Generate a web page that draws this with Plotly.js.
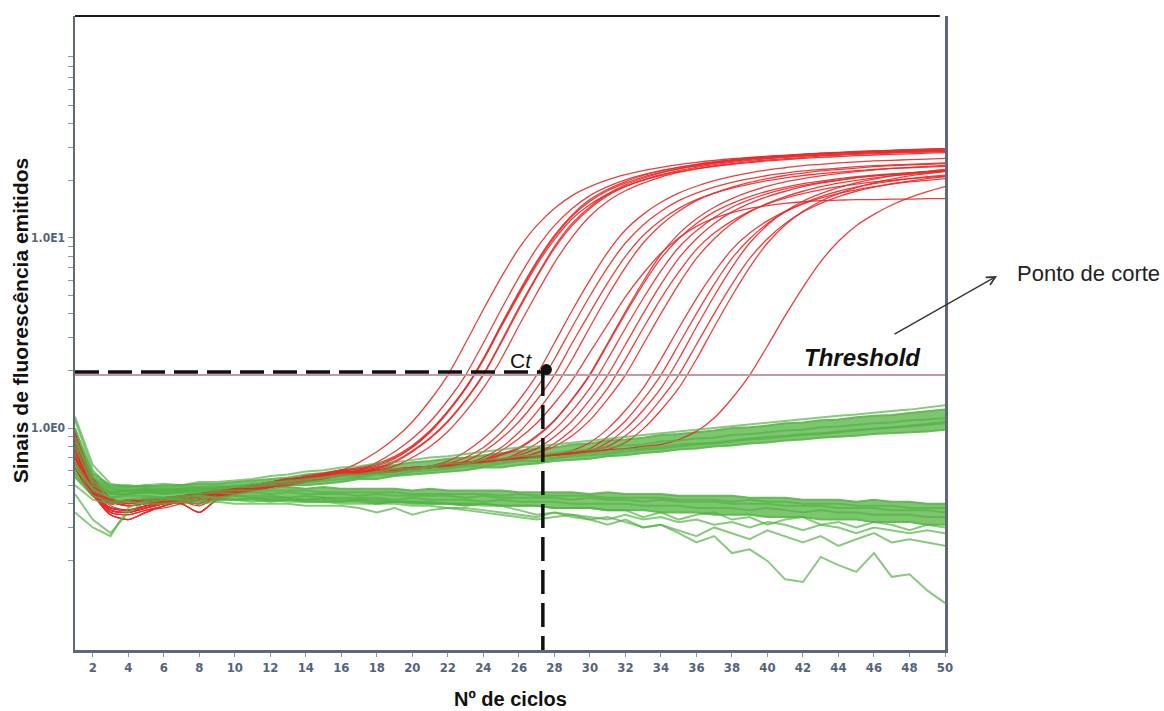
<!DOCTYPE html>
<html>
<head>
<meta charset="utf-8">
<script src="https://cdn.plot.ly/plotly-3.0.1.min.js"></script>
<style>
  html, body { margin: 0; padding: 0; background: #ffffff; }
  #chart { width: 1164px; height: 711px; }
</style>
</head>
<body>
<div id="chart"></div>
<script>
// qPCR amplification plot: fluorescence (log scale) per cycle.
const cycles = [1,2,3,4,5,6,7,8,9,10,11,12,13,14,15,16,17,18,19,20,21,22,23,24,25,
                26,27,28,29,30,31,32,33,34,35,36,37,38,39,40,41,42,43,44,45,46,47,48,49,50];

// Amplified samples (red)
const redA1 = [0.92,0.52,0.41,0.39,0.40,0.41,0.42,0.44,0.45,0.47,0.49,0.51,0.53,0.55,0.57,0.60,
  0.66,0.75,0.88,1.08,1.40,1.90,2.8,4.2,6.2,8.8,11.6,14.3,16.7,18.6,20.2,21.5,22.6,23.5,24.3,25.0,25.6,26.1,26.5,26.9,27.2,27.5,27.8,28.0,28.2,28.4,28.5,28.6,28.7,28.8];
const redA2 = [0.80,0.47,0.37,0.36,0.38,0.40,0.42,0.43,0.45,0.46,0.48,0.50,0.52,0.54,0.56,0.58,
  0.60,0.66,0.75,0.88,1.08,1.40,1.90,2.8,4.2,6.2,8.8,11.6,14.3,16.7,18.6,20.2,21.5,22.6,23.5,24.3,25.0,25.6,26.1,26.6,27.0,27.4,27.7,28.0,28.3,28.5,28.7,28.9,29.1,29.3];
const redA3 = [0.86,0.50,0.40,0.42,0.41,0.43,0.44,0.45,0.46,0.48,0.50,0.52,0.54,0.55,0.57,0.59,
  0.61,0.64,0.70,0.80,0.96,1.22,1.62,2.3,3.45,5.1,7.4,10.1,13.0,15.6,17.7,19.4,20.9,22.1,23.1,23.9,24.7,25.3,25.9,26.3,26.7,27.05,27.35,27.65,27.9,28.1,28.3,28.5,28.7,28.9];
const redA4 = [0.70,0.45,0.35,0.33,0.36,0.39,0.41,0.40,0.44,0.46,0.48,0.49,0.51,0.53,0.55,0.57,
  0.60,0.63,0.69,0.79,0.95,1.21,1.61,2.28,3.4,5.0,7.2,9.8,12.6,15.0,17.0,18.7,20.1,21.3,22.3,23.1,23.8,24.4,24.9,25.4,25.8,26.2,26.5,26.8,27.1,27.3,27.5,27.7,27.9,28.1];
const redA5 = [0.95,0.55,0.43,0.40,0.41,0.40,0.43,0.45,0.46,0.47,0.50,0.52,0.53,0.56,0.58,0.60,
  0.62,0.65,0.71,0.81,0.97,1.23,1.63,2.32,3.5,5.2,7.5,10.3,13.2,15.9,18.0,19.8,21.3,22.5,23.5,24.4,25.2,25.8,26.4,26.8,27.2,27.6,27.9,28.2,28.5,28.7,28.9,29.1,29.3,29.5];
const redA6 = [0.78,0.46,0.36,0.35,0.37,0.39,0.41,0.43,0.44,0.46,0.48,0.49,0.51,0.53,0.55,0.57,
  0.59,0.61,0.66,0.75,0.88,1.08,1.40,1.90,2.8,4.2,6.2,8.8,11.6,14.3,16.7,18.6,20.2,21.5,22.6,23.5,24.3,25.0,25.6,26.1,26.5,26.9,27.2,27.5,27.8,28.0,28.2,28.4,28.6,28.8];
const redA7 = [0.62,0.44,0.38,0.37,0.39,0.41,0.40,0.36,0.42,0.45,0.47,0.49,0.52,0.54,0.55,0.57,
  0.59,0.62,0.67,0.76,0.89,1.09,1.41,1.92,2.85,4.3,6.3,9.0,11.9,14.6,17.0,19.0,20.6,22.0,23.1,24.0,24.8,25.5,26.1,26.6,27.0,27.4,27.8,28.1,28.4,28.7,28.9,29.1,29.3,29.5];
const redA8 = [0.72,0.46,0.36,0.35,0.37,0.38,0.40,0.42,0.43,0.45,0.47,0.49,0.50,0.52,0.54,0.56,
  0.58,0.60,0.63,0.70,0.80,0.96,1.22,1.62,2.3,3.45,5.1,7.4,10.1,13.0,15.6,17.7,19.4,20.9,22.1,23.1,23.9,24.6,25.2,25.7,26.1,26.5,26.9,27.2,27.5,27.7,27.9,28.1,28.3,28.5];
const redB1 = [0.88,0.51,0.41,0.40,0.42,0.42,0.44,0.45,0.47,0.48,0.50,0.51,0.53,0.55,0.56,0.57,
  0.58,0.59,0.60,0.61,0.63,0.67,0.75,0.88,1.08,1.40,1.90,2.8,4.15,6.0,8.4,11.0,13.3,15.4,17.2,18.7,20.0,21.1,22.0,22.8,23.4,24.0,24.4,24.8,25.1,25.4,25.6,25.8,26.0,26.2];
const redB2 = [0.84,0.49,0.39,0.37,0.39,0.40,0.42,0.43,0.45,0.46,0.48,0.50,0.52,0.54,0.56,0.58,
  0.59,0.60,0.61,0.62,0.63,0.65,0.70,0.79,0.95,1.21,1.62,2.3,3.4,4.95,7.0,9.4,11.7,13.8,15.7,17.2,18.5,19.6,20.5,21.3,21.9,22.5,22.9,23.3,23.7,24.0,24.2,24.4,24.6,24.8];
const redB3 = [0.80,0.47,0.37,0.36,0.38,0.40,0.42,0.43,0.45,0.46,0.48,0.50,0.52,0.54,0.56,0.58,
  0.58,0.59,0.60,0.61,0.62,0.64,0.67,0.75,0.88,1.08,1.40,1.90,2.8,4.05,5.8,8.0,10.3,12.4,14.3,15.9,17.2,18.3,19.2,20.0,20.7,21.3,21.8,22.2,22.6,22.9,23.2,23.4,23.6,23.8];
const redB4 = [0.66,0.45,0.37,0.36,0.38,0.40,0.41,0.39,0.43,0.45,0.47,0.49,0.51,0.53,0.55,0.57,
  0.58,0.59,0.60,0.61,0.62,0.63,0.65,0.70,0.79,0.95,1.21,1.62,2.3,3.4,4.95,7.0,9.4,11.7,13.8,15.7,17.2,18.5,19.6,20.5,21.3,21.9,22.5,22.9,23.3,23.7,24.0,24.2,24.4,24.6];
const redB5 = [0.76,0.47,0.38,0.37,0.39,0.40,0.42,0.43,0.44,0.46,0.47,0.49,0.51,0.53,0.55,0.57,
  0.58,0.59,0.60,0.61,0.62,0.63,0.65,0.68,0.76,0.88,1.06,1.35,1.78,2.5,3.5,4.9,6.5,8.3,10.0,11.5,12.7,13.6,14.3,14.8,15.2,15.5,15.7,15.8,15.9,15.9,16.0,16.0,16.1,16.1];
const redC1 = [0.70,0.45,0.35,0.33,0.36,0.39,0.41,0.40,0.44,0.46,0.48,0.49,0.51,0.53,0.55,0.57,
  0.58,0.59,0.60,0.61,0.63,0.64,0.65,0.67,0.72,0.78,0.90,1.09,1.41,1.90,2.75,4.0,5.7,7.8,9.9,11.9,13.7,15.2,16.5,17.6,18.5,19.3,19.9,20.5,21.0,21.4,21.7,22.0,22.3,22.5];
const redC2 = [0.86,0.50,0.40,0.42,0.41,0.43,0.44,0.45,0.46,0.48,0.50,0.52,0.54,0.55,0.57,0.59,
  0.59,0.60,0.61,0.62,0.63,0.65,0.66,0.68,0.73,0.79,0.91,1.10,1.42,1.92,2.8,4.1,5.9,8.2,10.5,12.6,14.5,16.1,17.5,18.7,19.7,20.5,21.2,21.8,22.3,22.8,23.2,23.5,23.8,24.1];
const redC3 = [0.92,0.52,0.41,0.39,0.40,0.41,0.42,0.44,0.45,0.47,0.49,0.51,0.53,0.55,0.57,0.60,
  0.58,0.59,0.60,0.61,0.62,0.64,0.65,0.67,0.68,0.74,0.83,0.98,1.23,1.62,2.3,3.35,4.8,6.7,8.9,10.9,12.8,14.5,15.9,17.1,18.1,18.9,19.6,20.2,20.8,21.2,21.6,21.9,22.2,22.4];
const redC4 = [0.82,0.48,0.38,0.37,0.38,0.41,0.42,0.44,0.45,0.47,0.48,0.50,0.52,0.53,0.55,0.57,
  0.57,0.58,0.59,0.61,0.62,0.63,0.65,0.66,0.68,0.72,0.78,0.90,1.09,1.41,1.90,2.75,4.0,5.7,7.8,9.9,11.9,13.7,15.2,16.5,17.6,18.6,19.4,20.1,20.7,21.2,21.6,22.0,22.3,22.6];
const redC5 = [0.62,0.44,0.38,0.37,0.39,0.41,0.40,0.36,0.42,0.45,0.47,0.49,0.52,0.54,0.55,0.57,
  0.58,0.59,0.60,0.61,0.62,0.64,0.65,0.67,0.68,0.70,0.74,0.83,0.98,1.23,1.62,2.3,3.35,4.8,6.6,8.7,10.6,12.3,13.8,15.1,16.2,17.1,17.9,18.6,19.2,19.7,20.1,20.5,20.8,21.1];
const redC6 = [0.90,0.53,0.42,0.41,0.42,0.43,0.43,0.45,0.46,0.47,0.49,0.51,0.53,0.55,0.56,0.58,
  0.58,0.59,0.60,0.62,0.63,0.64,0.66,0.67,0.69,0.70,0.74,0.80,0.91,1.10,1.42,1.90,2.75,4.0,5.7,7.8,9.9,11.9,13.7,15.2,16.5,17.6,18.6,19.4,20.1,20.7,21.2,21.6,22.0,22.4];
const redD1 = [0.90,0.51,0.42,0.40,0.41,0.42,0.43,0.44,0.45,0.47,0.49,0.50,0.52,0.54,0.57,0.59,
  0.58,0.59,0.60,0.61,0.62,0.64,0.65,0.67,0.68,0.70,0.71,0.72,0.76,0.84,0.99,1.24,1.62,2.3,3.35,4.8,6.6,8.7,10.6,12.3,13.8,15.1,16.2,17.1,17.9,18.6,19.2,19.7,20.1,20.5];
const redD2 = [0.70,0.45,0.35,0.33,0.36,0.39,0.41,0.40,0.44,0.46,0.48,0.49,0.51,0.53,0.55,0.57,
  0.57,0.58,0.59,0.61,0.62,0.63,0.65,0.66,0.68,0.69,0.71,0.72,0.74,0.78,0.90,1.09,1.41,1.90,2.75,4.0,5.7,7.8,9.9,11.9,13.7,15.2,16.5,17.6,18.5,19.3,19.9,20.5,21.0,21.4];
const redD3 = [0.80,0.47,0.37,0.36,0.38,0.40,0.42,0.43,0.45,0.46,0.48,0.50,0.52,0.54,0.56,0.58,
  0.58,0.59,0.60,0.61,0.63,0.64,0.65,0.67,0.68,0.70,0.71,0.73,0.74,0.76,0.84,0.99,1.24,1.62,2.3,3.4,4.95,7.0,9.4,11.7,13.8,15.6,17.1,18.4,19.5,20.4,21.2,21.8,22.4,22.9];
const redD4 = [0.86,0.50,0.40,0.42,0.41,0.43,0.44,0.45,0.46,0.48,0.50,0.52,0.54,0.55,0.57,0.59,
  0.58,0.59,0.60,0.61,0.62,0.64,0.65,0.66,0.68,0.69,0.71,0.72,0.74,0.76,0.80,0.91,1.10,1.42,1.90,2.75,4.0,5.7,7.8,9.9,11.9,13.7,15.2,16.5,17.6,18.5,19.3,19.9,20.5,21.0];
const redD5 = [0.62,0.44,0.38,0.37,0.39,0.41,0.40,0.36,0.42,0.45,0.47,0.49,0.52,0.54,0.55,0.57,
  0.58,0.59,0.60,0.61,0.62,0.63,0.65,0.66,0.68,0.69,0.70,0.72,0.73,0.75,0.77,0.84,0.99,1.24,1.62,2.3,3.4,4.95,7.0,9.4,11.7,13.8,15.6,17.1,18.4,19.5,20.4,21.2,21.8,22.4];
const redE1 = [0.92,0.52,0.41,0.39,0.40,0.41,0.42,0.44,0.45,0.47,0.49,0.51,0.53,0.55,0.57,0.60,
  0.58,0.59,0.60,0.61,0.62,0.64,0.65,0.66,0.68,0.69,0.71,0.72,0.74,0.75,0.77,0.78,0.80,0.82,0.87,0.96,1.13,1.43,1.90,2.7,3.9,5.5,7.5,9.6,11.6,13.3,14.9,16.3,17.5,18.6];

// Non-amplified samples (green): slowly rising group
const greenUp1 = [1.10,0.60,0.48,0.47,0.48,0.47,0.48,0.49,0.48,0.50,0.50,0.52,0.52,0.54,0.55,0.57,0.57,0.59,0.61,0.61,0.63,0.65,0.65,0.68,0.69,
  0.71,0.72,0.74,0.76,0.77,0.79,0.81,0.82,0.85,0.86,0.88,0.89,0.92,0.93,0.95,0.97,0.98,1.01,1.02,1.04,1.06,1.07,1.10,1.11,1.13];
const greenUp2 = [0.98,0.58,0.50,0.50,0.49,0.50,0.50,0.51,0.51,0.52,0.53,0.54,0.55,0.57,0.58,0.60,0.61,0.62,0.64,0.66,0.67,0.69,0.70,0.72,0.74,
  0.76,0.78,0.79,0.82,0.83,0.86,0.87,0.89,0.92,0.93,0.95,0.97,1.00,1.01,1.03,1.06,1.07,1.10,1.11,1.14,1.16,1.17,1.20,1.22,1.25];
const greenUp3 = [0.70,0.50,0.45,0.45,0.46,0.45,0.46,0.46,0.47,0.47,0.48,0.48,0.50,0.50,0.51,0.52,0.54,0.54,0.56,0.57,0.58,0.59,0.60,0.62,0.62,
  0.64,0.65,0.67,0.68,0.69,0.71,0.72,0.74,0.75,0.77,0.78,0.80,0.81,0.83,0.84,0.86,0.87,0.89,0.90,0.91,0.93,0.94,0.95,0.96,0.98];
const greenUp4 = [0.85,0.55,0.46,0.47,0.47,0.48,0.47,0.48,0.49,0.49,0.51,0.51,0.53,0.53,0.55,0.56,0.56,0.58,0.59,0.60,0.62,0.62,0.64,0.65,0.66,
  0.68,0.70,0.70,0.72,0.74,0.75,0.77,0.78,0.80,0.82,0.83,0.84,0.86,0.88,0.90,0.91,0.93,0.94,0.96,0.98,0.99,1.01,1.02,1.04,1.06];
const greenUp5 = [0.62,0.48,0.43,0.45,0.47,0.46,0.47,0.47,0.48,0.49,0.49,0.50,0.51,0.52,0.53,0.54,0.55,0.57,0.57,0.59,0.60,0.61,0.63,0.63,0.65,
  0.67,0.67,0.69,0.71,0.72,0.73,0.75,0.77,0.78,0.80,0.82,0.83,0.85,0.87,0.88,0.90,0.92,0.93,0.95,0.97,0.99,1.00,1.03,1.05,1.08];
const greenUp6 = [1.15,0.64,0.51,0.49,0.50,0.51,0.50,0.52,0.52,0.53,0.54,0.56,0.57,0.59,0.60,0.62,0.63,0.65,0.66,0.68,0.70,0.71,0.73,0.75,0.77,
  0.79,0.80,0.82,0.84,0.86,0.88,0.90,0.92,0.94,0.96,0.98,1.00,1.02,1.05,1.07,1.09,1.11,1.14,1.16,1.18,1.21,1.23,1.25,1.28,1.32];

// Non-amplified samples (green): flat / slowly falling group
const greenLow1 = [0.80,0.50,0.45,0.45,0.46,0.45,0.46,0.45,0.46,0.45,0.46,0.45,0.46,0.45,0.45,0.45,0.44,0.45,0.44,0.44,0.44,0.44,0.43,0.44,0.43,
  0.43,0.43,0.43,0.42,0.43,0.42,0.42,0.41,0.42,0.41,0.41,0.41,0.40,0.40,0.40,0.39,0.39,0.39,0.38,0.38,0.38,0.37,0.37,0.37,0.36];
const greenLow2 = [1.00,0.55,0.49,0.49,0.50,0.49,0.50,0.49,0.50,0.49,0.49,0.49,0.49,0.48,0.49,0.48,0.48,0.48,0.48,0.47,0.48,0.47,0.47,0.47,0.47,
  0.46,0.46,0.46,0.46,0.45,0.46,0.45,0.45,0.45,0.44,0.44,0.44,0.44,0.43,0.43,0.43,0.42,0.42,0.42,0.41,0.42,0.41,0.41,0.40,0.40];
const greenLow3 = [0.55,0.44,0.41,0.41,0.42,0.41,0.42,0.41,0.42,0.42,0.42,0.41,0.42,0.41,0.41,0.41,0.41,0.40,0.41,0.40,0.40,0.40,0.39,0.40,0.39,
  0.39,0.39,0.38,0.38,0.38,0.37,0.37,0.37,0.36,0.36,0.36,0.35,0.35,0.35,0.34,0.34,0.34,0.33,0.33,0.33,0.32,0.32,0.32,0.31,0.31];
const greenLow4 = [0.66,0.47,0.43,0.44,0.44,0.43,0.44,0.44,0.43,0.44,0.44,0.44,0.43,0.44,0.43,0.43,0.43,0.43,0.42,0.43,0.42,0.42,0.42,0.41,0.42,
  0.41,0.41,0.41,0.40,0.40,0.40,0.40,0.39,0.39,0.39,0.38,0.38,0.38,0.37,0.38,0.37,0.36,0.37,0.36,0.36,0.35,0.35,0.35,0.34,0.34];
const greenLow5 = [0.90,0.52,0.46,0.47,0.47,0.47,0.48,0.47,0.47,0.47,0.47,0.47,0.47,0.47,0.46,0.46,0.46,0.46,0.46,0.45,0.45,0.45,0.45,0.45,0.44,
  0.45,0.44,0.44,0.44,0.44,0.43,0.43,0.43,0.43,0.42,0.42,0.42,0.41,0.42,0.41,0.41,0.40,0.40,0.40,0.39,0.39,0.39,0.38,0.38,0.38];
const greenDrop1 = [0.36,0.30,0.27,0.38,0.42,0.43,0.43,0.44,0.43,0.44,0.43,0.43,0.43,0.42,0.43,0.42,0.42,0.42,0.41,0.41,0.41,0.40,0.40,0.39,0.39,
  0.37,0.35,0.36,0.34,0.33,0.34,0.32,0.30,0.31,0.28,0.25,0.27,0.22,0.23,0.20,0.16,0.155,0.21,0.19,0.175,0.22,0.165,0.17,0.14,0.12];
const greenDrop2 = [0.45,0.33,0.28,0.36,0.41,0.42,0.42,0.41,0.42,0.42,0.41,0.42,0.41,0.41,0.41,0.40,0.40,0.40,0.40,0.39,0.39,0.38,0.38,0.37,0.36,
  0.35,0.34,0.36,0.35,0.33,0.31,0.33,0.30,0.31,0.29,0.27,0.30,0.28,0.26,0.29,0.27,0.25,0.27,0.24,0.26,0.28,0.25,0.26,0.25,0.24];
const greenDrop3 = [0.50,0.42,0.40,0.41,0.40,0.40,0.41,0.40,0.41,0.40,0.40,0.40,0.40,0.39,0.39,0.39,0.38,0.36,0.38,0.35,0.37,0.38,0.37,0.36,0.35,
  0.34,0.33,0.34,0.35,0.34,0.33,0.35,0.33,0.34,0.32,0.33,0.31,0.32,0.30,0.32,0.31,0.29,0.31,0.30,0.28,0.30,0.29,0.28,0.29,0.28];
const greenDrop4 = [0.58,0.44,0.41,0.42,0.43,0.43,0.42,0.43,0.43,0.42,0.43,0.42,0.42,0.42,0.42,0.41,0.42,0.41,0.41,0.41,0.40,0.40,0.40,0.40,0.39,
  0.39,0.39,0.38,0.38,0.38,0.37,0.37,0.34,0.36,0.33,0.35,0.36,0.33,0.34,0.31,0.33,0.34,0.31,0.32,0.30,0.32,0.31,0.29,0.31,0.30];

// Threshold and the Ct marker
const threshold = 1.9;
const ctCycle = 27.35;
const ctLevel = 1.97;
const ctDot = [27.55, 2.03];
const yFloor = 0.068;
const yCeil = 147;

// Axis ticks
const xTicks = [2,4,6,8,10,12,14,16,18,20,22,24,26,28,30,32,34,36,38,40,42,44,46,48,50];
const yTickVals = [0.2,0.3,0.4,0.5,0.6,0.7,0.8,0.9,1,2,3,4,5,6,7,8,9,10,20,30,40,50,60,70,80,90];
const yTickText = ['','','','','','','','','1.0E0','','','','','','','','','1.0E1','','','','','','','',''];

const redSeries = [redA1, redA2, redA3, redA4, redA5, redA6, redA7, redA8,
                   redB1, redB2, redB3, redB4, redB5,
                   redC1, redC2, redC3, redC4, redC5, redC6,
                   redD1, redD2, redD3, redD4, redD5, redE1];
const greenLines = [greenUp1, greenUp4, greenUp5, greenUp6, greenLow1, greenLow4, greenLow5,
                    greenDrop1, greenDrop2, greenDrop3, greenDrop4];

const traces = [];
const bandFill = 'rgba(102,188,86,0.85)';
const bandEdge = 'rgba(92,182,78,0.9)';

// dense green bands: filled between the outer curves of each group
traces.push({x: cycles, y: greenLow3, mode: 'lines', line: {color: bandEdge, width: 2}, hoverinfo: 'skip'});
traces.push({x: cycles, y: greenLow2, mode: 'lines', fill: 'tonexty', fillcolor: bandFill, line: {color: bandEdge, width: 2}, hoverinfo: 'skip'});
traces.push({x: cycles, y: greenUp3, mode: 'lines', line: {color: bandEdge, width: 2}, hoverinfo: 'skip'});
traces.push({x: cycles, y: greenUp2, mode: 'lines', fill: 'tonexty', fillcolor: bandFill, line: {color: bandEdge, width: 2}, hoverinfo: 'skip'});

redSeries.forEach(function (s) {
  traces.push({x: cycles, y: s, mode: 'lines',
    line: {color: 'rgba(232,42,42,0.9)', width: 1.3, shape: 'spline', smoothing: 0.7}, hoverinfo: 'skip'});
});

greenLines.forEach(function (s) {
  traces.push({x: cycles, y: s, mode: 'lines',
    line: {color: 'rgba(84,178,70,0.7)', width: 2}, hoverinfo: 'skip'});
});

// threshold line
traces.push({x: [cycles[0], cycles[cycles.length - 1]], y: [threshold, threshold], mode: 'lines',
  line: {color: '#c39aa3', width: 2}, hoverinfo: 'skip'});

// Ct guide lines and point
traces.push({x: [cycles[0], ctCycle], y: [ctLevel, ctLevel], mode: 'lines',
  line: {color: '#111111', width: 3.5, dash: '24px,9px'}, hoverinfo: 'skip'});
traces.push({x: [ctCycle, ctCycle], y: [ctLevel, yFloor], mode: 'lines',
  line: {color: '#111111', width: 3.5, dash: '24px,9px'}, hoverinfo: 'skip'});
traces.push({x: [ctDot[0]], y: [ctDot[1]], mode: 'markers',
  marker: {color: '#111111', size: 11}, hoverinfo: 'skip', cliponaxis: false});

const tickFont = {family: 'Liberation Sans Narrow, DejaVu Sans Condensed, Arial Narrow, sans-serif',
                  size: 13, color: '#56627a', weight: 'bold'};
const bodyFont = 'Liberation Sans, Arial, Helvetica, sans-serif';

const layout = {
  width: 1164,
  height: 711,
  margin: {l: 75, r: 219, t: 16, b: 61},
  paper_bgcolor: '#ffffff',
  plot_bgcolor: '#ffffff',
  showlegend: false,
  xaxis: {
    range: [1, 50],
    tickmode: 'array',
    tickvals: xTicks,
    ticks: 'outside',
    ticklen: 4,
    tickwidth: 1,
    tickcolor: '#8a94a4',
    tickfont: tickFont,
    showline: true,
    linecolor: '#5f6877',
    linewidth: 2.5,
    showgrid: false,
    zeroline: false,
    fixedrange: true
  },
  yaxis: {
    type: 'log',
    range: [Math.log10(yFloor), Math.log10(yCeil)],
    tickmode: 'array',
    tickvals: yTickVals,
    ticktext: yTickText,
    ticks: 'outside',
    ticklen: 5,
    tickwidth: 1,
    tickcolor: '#8a94a4',
    tickfont: Object.assign({}, tickFont, {size: 12}),
    showline: true,
    mirror: true,
    linecolor: '#5f6877',
    linewidth: 2.5,
    showgrid: false,
    zeroline: false,
    fixedrange: true
  },
  shapes: [
    {type: 'line', xref: 'paper', yref: 'paper', x0: 0, x1: 0.994, y0: 1, y1: 1,
     line: {color: '#1a1a1a', width: 2}}
  ],
  annotations: [
    {text: 'Sinais de fluorescência emitidos', xref: 'paper', yref: 'paper', x: -0.0632, y: 0.52,
     textangle: -90, showarrow: false, xanchor: 'center', yanchor: 'middle',
     font: {family: bodyFont, size: 21, color: '#111111', weight: 'bold'}},
    {text: 'Nº de ciclos', xref: 'paper', yref: 'paper', x: 0.5, y: -0.0775,
     showarrow: false, xanchor: 'center', yanchor: 'middle',
     font: {family: bodyFont, size: 20, color: '#111111', weight: 'bold'}},
    {text: 'Threshold', xref: 'paper', yref: 'paper', x: 0.9747, y: 0.4606,
     showarrow: false, xanchor: 'right', yanchor: 'middle',
     font: {family: bodyFont, size: 24, color: '#111111', weight: 'bold', style: 'italic'}},
    {text: 'C<i>t</i>', xref: 'paper', yref: 'paper', x: 0.5276, y: 0.4574,
     showarrow: false, xanchor: 'right', yanchor: 'middle',
     font: {family: bodyFont, size: 21, color: '#111111'}},
    {text: 'Ponto de corte', xref: 'paper', yref: 'paper', x: 1.0805, y: 0.5946,
     showarrow: false, xanchor: 'left', yanchor: 'middle',
     font: {family: bodyFont, size: 22, color: '#222222'}},
    {text: '', xref: 'paper', yref: 'paper', x: 1.0598, y: 0.5899,
     showarrow: true, ax: -104, ay: 59, axref: 'pixel', ayref: 'pixel',
     arrowhead: 5, arrowsize: 1.3, arrowwidth: 1.3, arrowcolor: '#333333', standoff: 0}
  ]
};

Plotly.newPlot('chart', traces, layout, {displayModeBar: false, staticPlot: true});
</script>
</body>
</html>
